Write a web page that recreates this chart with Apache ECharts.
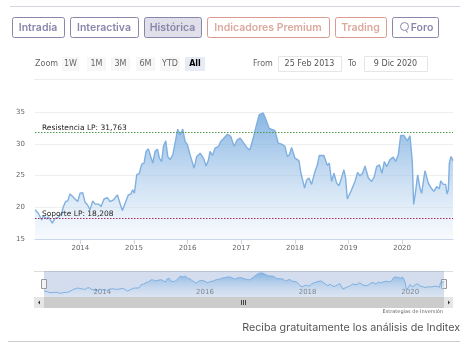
<!DOCTYPE html>
<html><head><meta charset="utf-8">
<style>html,body{margin:0;padding:0;background:#fff;overflow:hidden}#c{width:469px;height:352px}</style>
<script src="https://cdn.jsdelivr.net/npm/echarts@6/dist/echarts.min.js"></script>
</head><body><div id="c"></div>
<script>
const years=[2013.154,2013.185,2013.216,2013.247,2013.279,2013.31,2013.341,2013.372,2013.403,2013.434,2013.478,2013.527,2013.59,2013.652,2013.683,2013.726,2013.764,2013.807,2013.857,2013.9,2013.95,2013.994,
2014.044,2014.087,2014.131,2014.18,2014.23,2014.274,2014.336,2014.386,2014.442,2014.504,2014.553,2014.616,2014.69,2014.74,2014.784,2014.833,2014.896,2014.939,2014.976,
2015.007,2015.051,2015.1,2015.144,2015.188,2015.225,2015.269,2015.312,2015.35,2015.393,2015.437,2015.474,2015.517,2015.549,2015.592,2015.629,2015.673,2015.723,2015.766,2015.816,2015.859,2015.909,2015.953,2015.996,
2016.046,2016.077,2016.121,2016.17,2016.233,2016.295,2016.345,2016.388,2016.419,2016.463,2016.512,2016.575,2016.618,2016.68,2016.743,2016.805,2016.867,2016.93,2016.98,
2017.006,2017.068,2017.112,2017.162,2017.224,2017.286,2017.336,2017.41,2017.46,2017.522,2017.628,2017.69,2017.752,2017.815,2017.858,2017.896,2017.939,
2018.001,2018.076,2018.113,2018.144,2018.182,2018.219,2018.262,2018.312,2018.374,2018.418,2018.455,2018.542,2018.604,2018.642,2018.685,2018.729,2018.779,2018.822,2018.872,2018.915,2018.946,2018.978,
2019.009,2019.058,2019.121,2019.17,2019.214,2019.264,2019.308,2019.37,2019.432,2019.482,2019.525,2019.575,2019.624,2019.668,2019.711,2019.774,2019.836,2019.879,2019.929,2019.973,
2020.035,2020.097,2020.147,2020.19,2020.215,2020.252,2020.29,2020.333,2020.364,2020.426,2020.489,2020.551,2020.594,2020.644,2020.694,2020.719,2020.769,2020.812,2020.837,2020.862,2020.881,2020.912,2020.949];
const prices=[19.6,19.7,19.05,18.9,18.0,18.7,18.4,18.15,18.5,18.4,17.5,18.25,18.4,19.05,20.1,20.9,21.0,22.1,21.7,21.3,20.9,22.2,
22.3,20.8,20.4,19.6,21.0,20.5,20.5,20.1,21.3,21.5,20.9,21.15,21.95,20.6,19.5,20.6,21.95,22.05,22.75,
22.2,25.1,25.35,26.8,26.95,28.8,29.2,28.0,26.95,28.8,29.15,27.75,27.2,29.6,30.45,28.0,27.5,28.25,30.1,32.3,31.4,32.3,30.35,29.85,
28.25,28.25,26.15,28.0,28.5,27.75,26.5,27.45,28.8,28.15,29.3,29.6,30.35,30.9,31.5,31.15,29.6,30.65,30.9,
30.8,29.85,29.3,29.05,30.9,33.0,34.6,34.85,33.8,32.4,32.05,30.1,29.95,29.6,28.0,28.25,29.4,
27.75,27.35,25.35,25.1,23.0,24.3,24.6,23.6,25.6,26.6,28.15,28.15,26.6,26.95,24.05,25.35,23.8,23.4,24.7,25.9,24.6,21.3,
21.4,22.75,24.05,25.5,24.95,25.35,26.5,24.6,24.05,24.85,26.4,26.7,25.35,27.2,26.4,27.5,27.9,27.2,28.25,31.3,
31.3,30.45,31.25,27.2,20.45,22.5,25.1,23.0,22.2,25.75,23.8,22.9,22.5,23.25,22.9,24.15,23.6,23.6,22.1,22.75,26.95,28.0,27.35];
const yTicks=[15,20,25,30,35];
const mainYears=[2014,2015,2016,2017,2018,2019,2020];
const navYears=[2014,2016,2018,2020];
const resistance=31.763, support=18.208;
const resistanceLabel="Resistencia LP: 31,763", supportLabel="Soporte LP: 18,208";

const series=years.map((y,i)=>[y,prices[i]]);
const xMin=years[0],xMax=years[years.length-1];
const yearFmt=v=>String(Math.round(v));
const F='"DejaVu Sans"',B='Inter';

function btn(x,w,label,stroke,color,fill,tw){return [
 {type:'rect',shape:{x:x+.5,y:17.5,width:w,height:20,r:2},style:{fill:fill||'#fff',stroke:stroke,lineWidth:1}},
 {type:'text',x:tw!==undefined?tw:x+w/2,y:27.5,style:{text:label,fill:color,font:'600 10.5px '+B,textAlign:'center',textVerticalAlign:'middle'}}];}
function rng(x,w,label,active){return [
 {type:'rect',shape:{x:x,y:57,width:w,height:14},style:{fill:active?'#e6ebf5':'#f7f7f7'}},
 {type:'text',x:x+w/2,y:64,style:{text:label,fill:active?'#000':'#666',font:(active?'bold ':'')+'8px '+F,textAlign:'center',textVerticalAlign:'middle'}}];}
function box(x,w,label){return [
 {type:'rect',shape:{x:x+.5,y:56.5,width:w,height:15},style:{fill:'#fff',stroke:'#e6e6e6',lineWidth:1}},
 {type:'text',x:x+w/2,y:64,style:{text:label,fill:'#555',font:'8px '+F,textAlign:'center',textVerticalAlign:'middle'}}];}
const lbl=(x,y,t)=>({type:'text',x:x,y:y,style:{text:t,fill:'#666',font:'8px '+F,textVerticalAlign:'middle'}});
const P='#8a86ab',R='#d99a8f';
const graphic=[
 {type:'text',x:10,y:-3,style:{text:'Gráfico de cotización',fill:'#555',font:'600 10.5px '+B,textVerticalAlign:'middle'}},
 {type:'line',shape:{x1:10,y1:6.5,x2:460,y2:6.5},style:{stroke:'#d5d5e5',lineWidth:1}},
 ...btn(12,52,'Intradía',P,P),...btn(70,68,'Interactiva',P,P),...btn(144,57,'Histórica',P,P,'#dfe0ea'),
 ...btn(207,122,'Indicadores Premium',R,'#dca99f'),...btn(335,51,'Trading',R,'#dca99f'),...btn(392,46,'Foro',P,P,null,422),
 {type:'circle',shape:{cx:404.5,cy:26.5,r:4},style:{fill:'none',stroke:P,lineWidth:1}},
 {type:'line',shape:{x1:405.5,y1:30.5,x2:408,y2:32.5},style:{stroke:P,lineWidth:1}},
 lbl(35,64,'Zoom'),
 ...rng(62,17,'1W'),...rng(87,19,'1M'),...rng(111,19,'3M'),...rng(136,19,'6M'),...rng(160,20,'YTD'),...rng(185,20,'All',true),
 lbl(253,64,'From'),...box(278,63,'25 Feb 2013'),lbl(348,64,'To'),...box(364,63,'9 Dic 2020'),
 {type:'line',shape:{x1:34,y1:79.5,x2:453,y2:79.5},style:{stroke:'#eee',lineWidth:1}},
 {type:'line',shape:{x1:34,y1:271.5,x2:453,y2:271.5},style:{stroke:'#dcdcdc',lineWidth:1}},
 {type:'rect',shape:{x:44,y:271,width:400,height:26},style:{fill:'rgba(102,133,194,0.28)'}},
 {type:'rect',shape:{x:41.5,y:279.5,width:5,height:9},style:{fill:'#f2f2f2',stroke:'#999',lineWidth:1}},
 {type:'rect',shape:{x:441.5,y:279.5,width:5,height:9},style:{fill:'#f2f2f2',stroke:'#999',lineWidth:1}},
 {type:'rect',shape:{x:34,y:297,width:419,height:11},style:{fill:'#cccccc'}},
 {type:'rect',shape:{x:34,y:297,width:10,height:11},style:{fill:'#e6e6e6'}},
 {type:'rect',shape:{x:444,y:297,width:9,height:11},style:{fill:'#e6e6e6'}},
 {type:'polygon',shape:{points:[[40,300.5],[40,304.5],[38,302.5]]},style:{fill:'#333'}},
 {type:'polygon',shape:{points:[[448,300.5],[448,304.5],[450,302.5]]},style:{fill:'#333'}},
 {type:'line',shape:{x1:241.5,y1:300,x2:241.5,y2:305},style:{stroke:'#444',lineWidth:1}},
 {type:'line',shape:{x1:243.5,y1:300,x2:243.5,y2:305},style:{stroke:'#444',lineWidth:1}},
 {type:'line',shape:{x1:245.5,y1:300,x2:245.5,y2:305},style:{stroke:'#444',lineWidth:1}},
 {type:'text',x:443,y:312,style:{text:'Estrategias de Inversión',fill:'#666',font:'5px '+F,textAlign:'right',textVerticalAlign:'middle'}},
 {type:'text',x:460,y:328,style:{text:'Reciba gratuitamente los análisis de Inditex',fill:'#555',font:'10.7px '+B,textAlign:'right',textVerticalAlign:'middle'}},
 {type:'line',shape:{x1:8,y1:341.5,x2:460,y2:341.5},style:{stroke:'#ccc',lineWidth:1}}
];

const chart=echarts.init(document.getElementById('c'),null,{renderer:'canvas'});
chart.setOption({
 animation:false,
 grid:[{left:35,top:112,width:418,height:127},{left:44,top:271,width:400,height:26}],
 xAxis:[
  {type:'value',gridIndex:0,min:xMin,max:xMax,
   axisLine:{onZero:false,lineStyle:{color:'#ccd6eb'}},
   axisTick:{show:true,length:5,customValues:mainYears,lineStyle:{color:'#ccd6eb'}},
   splitLine:{show:false},
   axisLabel:{customValues:mainYears,formatter:yearFmt,color:'#666',fontFamily:F,fontSize:7,margin:6,hideOverlap:false}},
  {type:'value',gridIndex:1,min:xMin,max:xMax,
   axisLine:{show:false,onZero:false},axisTick:{show:false},splitLine:{show:false},
   axisLabel:{inside:true,customValues:navYears,formatter:yearFmt,color:'#555',fontFamily:F,fontSize:7,align:'left',padding:[0,0,0,6],margin:1,hideOverlap:false}}
 ],
 yAxis:[
  {type:'value',gridIndex:0,min:15,max:35,interval:5,
   axisLine:{show:false},axisTick:{show:false},
   splitLine:{lineStyle:{color:'#eeeeee'}},
   axisLabel:{color:'#666',fontFamily:F,fontSize:7,margin:10,padding:[0,0,6,0]}},
  {type:'value',gridIndex:1,min:14.5,max:36.5,show:false,splitLine:{show:false}}
 ],
 series:[
  {type:'line',xAxisIndex:0,yAxisIndex:0,data:series,showSymbol:false,silent:true,
   lineStyle:{color:'#7fb0e0',width:1.4},
   areaStyle:{color:new echarts.graphic.LinearGradient(0,0,0,1,[{offset:0,color:'rgba(85,150,215,1)'},{offset:1,color:'rgba(240,246,252,0.7)'}])},
   markLine:{silent:true,symbol:'none',animation:false,
    data:[
     {yAxis:resistance,lineStyle:{color:'#4f9a4f',type:[1.5,1.5],width:1},label:{formatter:resistanceLabel}},
     {yAxis:support,lineStyle:{color:'#b02a55',type:[1.5,1.5],width:1},label:{formatter:supportLabel}}],
    label:{position:'insideStartTop',distance:[7,1],color:'#222',fontFamily:F,fontSize:7.5}}},
  {type:'line',xAxisIndex:1,yAxisIndex:1,data:series,showSymbol:false,silent:true,
   lineStyle:{color:'#7fb0e0',width:1},
   areaStyle:{color:new echarts.graphic.LinearGradient(0,0,0,1,[{offset:0,color:'rgba(88,155,218,0.9)'},{offset:1,color:'rgba(235,243,250,0.4)'}])}}
 ],
 graphic:graphic
});
</script></body></html>
